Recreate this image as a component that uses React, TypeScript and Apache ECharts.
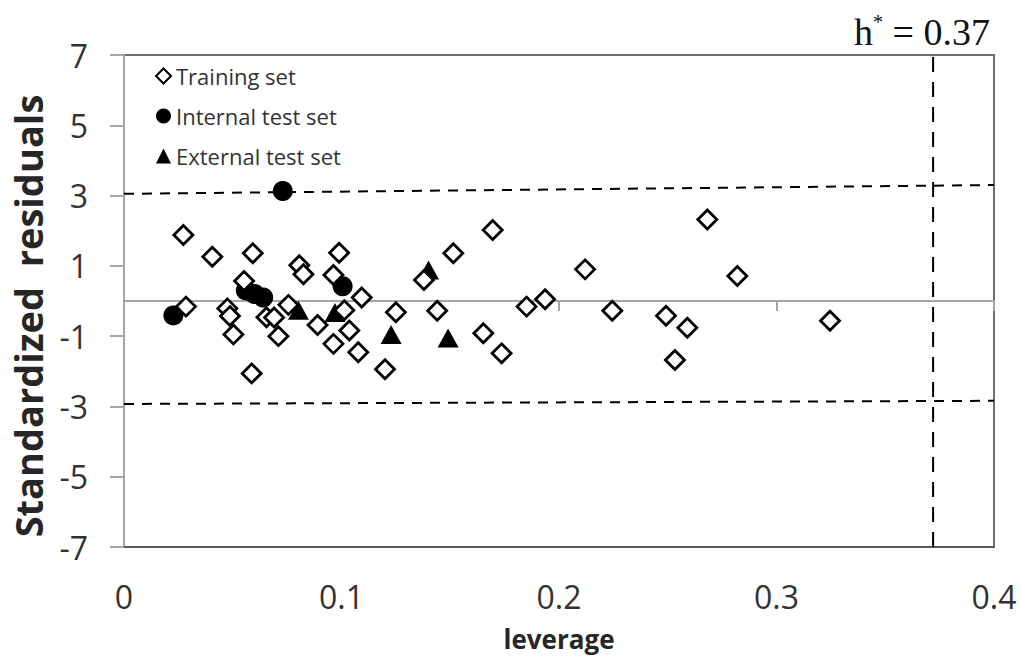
import React, { useEffect, useRef } from "react";
import * as echarts from "echarts";

// leverage, standardized residual
const trainingSet: [number, number][] = [
  [0.0273, 1.88], [0.0285, -0.16], [0.0406, 1.26], [0.0475, -0.21], [0.0487, -0.43],
  [0.0503, -0.95], [0.0552, 0.57], [0.0587, -2.06], [0.0592, 1.36], [0.0655, -0.46],
  [0.069, -0.47], [0.071, -1.0], [0.0756, -0.11], [0.0806, 1.02], [0.0825, 0.76],
  [0.089, -0.68], [0.0963, 0.74], [0.0963, -1.22], [0.0989, 1.37], [0.1013, -0.26],
  [0.1036, -0.84], [0.1077, -1.46], [0.1093, 0.1], [0.12, -1.94], [0.125, -0.32],
  [0.1379, 0.6], [0.144, -0.28], [0.1514, 1.36], [0.1652, -0.92], [0.1695, 2.02],
  [0.1736, -1.49], [0.1851, -0.16], [0.1936, 0.05], [0.212, 0.9], [0.2245, -0.28],
  [0.2492, -0.42], [0.2533, -1.68], [0.259, -0.76], [0.2682, 2.32], [0.282, 0.71],
  [0.3246, -0.56],
];
const internalTestSet: [number, number][] = [
  [0.0227, -0.41], [0.056, 0.3], [0.06, 0.2], [0.064, 0.1], [0.073, 3.13], [0.1005, 0.42],
];
const externalTestSet: [number, number][] = [
  [0.0802, -0.26], [0.097, -0.33], [0.1228, -0.95], [0.14, 0.88], [0.149, -1.05],
];
const upperLimit: [number, number][] = [[0, 3.05], [0.4, 3.3]];
const lowerLimit: [number, number][] = [[0, -2.93], [0.4, -2.84]];
const hStar = 0.372;
const hStarLabel = "0.37";
const yTicks = [-7, -5, -3, -1, 1, 3, 5, 7];
const seriesNames = ["Training set", "Internal test set", "External test set"];

export default function App() {
  const ref = useRef<HTMLDivElement>(null);
  useEffect(() => {
    if (!ref.current) return;
    const chart = echarts.init(ref.current, undefined, { renderer: "svg" });
    const dashed = (data: [number, number][], dash: number[]) => ({
      type: "line",
      data,
      symbol: "none",
      silent: true,
      z: 1,
      lineStyle: { color: "#000", width: 2, type: dash },
    });
    chart.setOption({
      animation: false,
      backgroundColor: "#fff",
      grid: {
        left: 124, top: 55, width: 870, height: 492,
        show: true, borderColor: "#6f6f6f", borderWidth: 2,
      },
      legend: {
        data: seriesNames,
        orient: "vertical",
        left: 150,
        top: 59,
        itemWidth: 15,
        itemHeight: 15,
        itemGap: 16,
        textStyle: { fontSize: 22, fontFamily: "Open Sans", color: "#333", lineHeight: 24 },
      },
      xAxis: [
        {
          type: "value", min: 0, max: 0.4, interval: 0.1, position: "bottom",
          axisLine: { show: true, onZero: true, lineStyle: { color: "#a6a6a6", width: 2 } },
          axisTick: { show: true, length: 10, lineStyle: { color: "#a6a6a6", width: 2 } },
          axisLabel: { show: false },
          splitLine: { show: false },
        },
        {
          type: "value", min: 0, max: 0.4, interval: 0.1, position: "bottom",
          axisLine: { show: true, onZero: false, lineStyle: { color: "#595959", width: 2 } },
          axisTick: { show: false },
          axisLabel: { fontSize: 32, fontFamily: "Open Sans", color: "#333", margin: 33 },
          splitLine: { show: false },
          name: "leverage",
          nameLocation: "middle",
          nameGap: 79,
          nameTextStyle: { fontSize: 26, fontWeight: "bold", fontFamily: "Open Sans", color: "#262626" },
        },
      ],
      yAxis: {
        type: "value", min: -7, max: 7,
        axisLine: { show: true, onZero: false, lineStyle: { color: "#a6a6a6", width: 2 } },
        axisTick: { show: true, length: 14, customValues: yTicks, lineStyle: { color: "#a6a6a6", width: 2 } },
        axisLabel: { customValues: yTicks, fontSize: 32, fontFamily: "Open Sans", color: "#333", margin: 36 },
        splitLine: { show: false },
      },
      graphic: [
        {
          type: "text", x: 28, y: 316, rotation: Math.PI / 2,
          style: {
            text: "Standardized  residuals",
            fontSize: 38, fontWeight: "bold", fontFamily: "Open Sans", fill: "#262626",
            align: "center", verticalAlign: "middle", textAlign: "center", textVerticalAlign: "middle",
          },
        },
        {
          type: "text", x: 990, y: 32,
          style: {
            text: "{h|h}{s|*}{t| = " + hStarLabel + "}",
            align: "right", verticalAlign: "middle", textAlign: "right", textVerticalAlign: "middle",
            fill: "#111",
            rich: {
              h: { fontSize: 38, fontFamily: "Liberation Serif", fill: "#111", lineHeight: 40 },
              s: { fontSize: 20, fontFamily: "Liberation Serif", fill: "#111", verticalAlign: "top", lineHeight: 40 },
              t: { fontSize: 38, fontFamily: "Liberation Serif", fill: "#111", lineHeight: 40 },
            },
          },
        },
      ],
      series: [
        {
          name: "Internal test set", type: "scatter", xAxisIndex: 1, data: internalTestSet,
          symbol: "circle", symbolSize: 20, z: 2,
          itemStyle: { color: "#000", opacity: 1 },
        },
        {
          name: "External test set", type: "scatter", xAxisIndex: 1, data: externalTestSet,
          symbol: "triangle", symbolSize: [21, 19], z: 2,
          itemStyle: { color: "#000", opacity: 1 },
        },
        {
          name: "Training set", type: "scatter", xAxisIndex: 1, data: trainingSet,
          symbol: "diamond", symbolSize: 19, z: 3,
          itemStyle: { color: "#fff", borderColor: "#000", borderWidth: 2.8, opacity: 1 },
        },
        { ...dashed(upperLimit, [10, 8]), xAxisIndex: 1 },
        { ...dashed(lowerLimit, [10, 8]), xAxisIndex: 1 },
        { ...dashed([[hStar, -7], [hStar, 7]], [15, 10]), xAxisIndex: 1 },
      ],
    });
    return () => chart.dispose();
  }, []);
  return (
    <div
      ref={ref}
      style={{ position: "absolute", left: 0, top: 0, width: 1021, height: 657 }}
    />
  );
}
